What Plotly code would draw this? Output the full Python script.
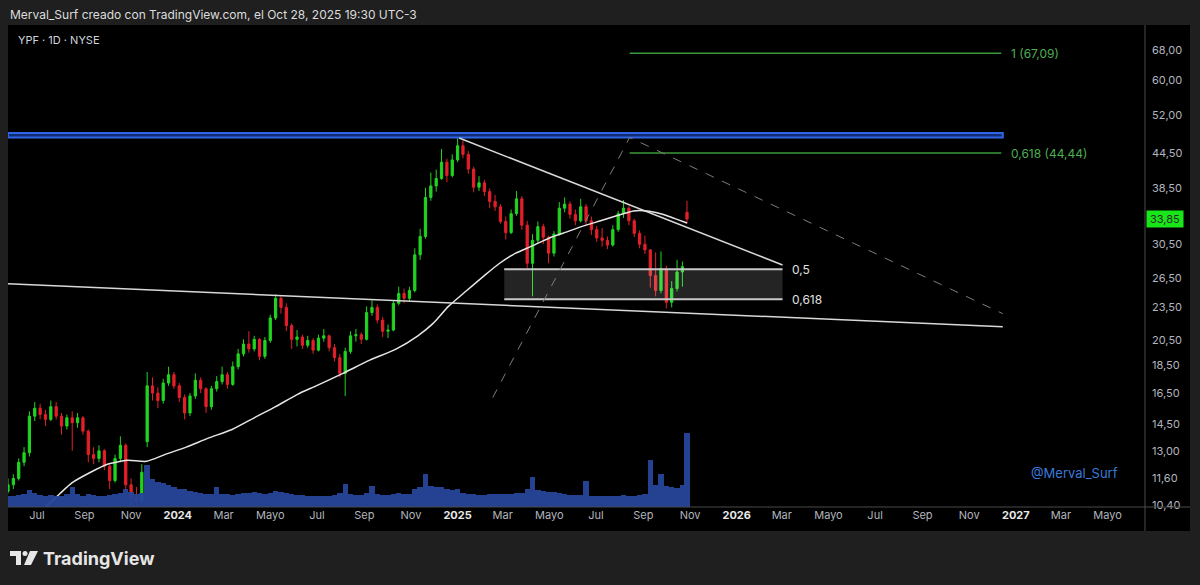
import math
import pandas as pd
import plotly.graph_objects as go

# ---------------- data ----------------
# weekly bars (centre of week), last bar = Oct 27-28 2025
dates = list(pd.date_range("2023-05-24", periods=127, freq="7D").strftime("%Y-%m-%d")) + ["2025-10-28"]

opens = [
    11.0, 11.3, 11.6, 12.4, 12.9, 15.0, 15.5, 15.1, 14.8, 15.6, 15.0, 14.4, 14.9, 14.6, 14.9, 14.1,
    12.8, 12.6, 13.0, 12.2, 11.5, 12.6, 13.3, 11.3, 10.7, 10.6, 13.5, 17.0, 16.5, 16.0, 17.2, 17.8,
    17.0, 16.2, 15.2, 16.3, 17.4, 16.8, 15.6, 16.8, 17.3, 17.8, 17.1, 18.4, 19.4, 20.2, 19.8, 20.6,
    19.2, 20.5, 22.5, 24.4, 23.5, 21.8, 20.6, 20.8, 20.1, 20.5, 19.7, 20.7, 20.9, 19.9, 19.1, 17.9,
    19.6, 20.9, 21.0, 20.6, 23.0, 23.5, 22.3, 21.3, 21.4, 23.9, 24.9, 24.4, 25.2, 29.2, 31.5, 37.0,
    38.8, 40.0, 42.8, 40.5,
    43.2, 45.8, 44.2, 41.6, 38.6, 39.3, 37.9, 36.4, 35.6, 33.5, 32.0, 34.6, 36.8, 33.0, 28.2, 31.0,
    32.8, 31.4, 29.4, 31.8, 35.4, 36.0, 34.5, 33.6, 35.6, 33.6, 32.4, 31.3, 31.0, 30.4, 32.4, 34.6,
    35.4, 33.6, 31.9, 30.5, 29.8, 26.8, 25.2, 27.6, 24.0, 25.4, 27.2, 34.8,
]
highs = [
    11.6, 11.8, 12.6, 13.2, 15.3, 15.9, 15.8, 15.4, 16.0, 15.9, 15.2, 15.1, 15.3, 15.2, 15.0, 14.2,
    13.2, 13.3, 13.1, 12.3, 12.8, 13.8, 13.4, 11.6, 11.2, 12.3, 18.0, 17.6, 16.9, 17.5, 18.4, 18.0,
    17.2, 16.4, 16.5, 17.9, 17.6, 16.9, 17.0, 17.7, 18.4, 18.0, 18.8, 19.8, 20.6, 21.3, 20.9, 20.7,
    20.8, 22.8, 24.8, 24.6, 23.9, 22.0, 21.4, 21.0, 20.9, 20.7, 21.0, 21.5, 21.0, 20.2, 19.4, 19.9,
    21.3, 21.5, 21.2, 23.6, 24.2, 23.8, 22.6, 21.9, 24.2, 25.6, 25.4, 25.6, 30.0, 32.5, 38.5, 41.0,
    41.5, 45.2, 43.4, 44.2,
    47.4, 46.8, 44.8, 42.0, 40.4, 39.8, 38.4, 37.4, 36.0, 34.2, 35.2, 38.0, 37.2, 33.6, 31.8, 33.5,
    33.2, 31.6, 32.2, 36.3, 37.0, 36.4, 35.2, 36.8, 36.0, 34.2, 32.9, 32.6, 31.5, 33.0, 35.0, 36.6,
    35.7, 33.9, 32.3, 31.6, 29.9, 29.5, 29.6, 27.9, 26.2, 28.6, 28.4, 36.5,
]
lows = [
    10.9, 11.1, 11.5, 12.2, 12.7, 14.7, 14.8, 14.4, 14.7, 14.8, 13.9, 14.2, 13.0, 14.3, 13.9, 12.4,
    12.3, 12.4, 12.0, 11.1, 11.4, 12.4, 11.0, 10.3, 10.2, 10.5, 13.2, 16.0, 15.5, 15.8, 17.0, 16.8,
    15.9, 14.8, 15.0, 16.1, 16.5, 15.2, 15.4, 16.6, 17.1, 16.8, 17.0, 18.2, 19.2, 19.5, 19.6, 18.9,
    19.0, 20.3, 22.3, 22.9, 21.3, 19.8, 20.0, 19.8, 19.9, 19.4, 19.6, 20.4, 19.6, 18.8, 17.6, 16.3,
    19.4, 20.4, 20.2, 20.5, 22.7, 22.0, 20.8, 20.7, 21.3, 23.7, 23.9, 24.1, 25.0, 28.6, 31.2, 36.5,
    37.9, 39.8, 39.4, 40.2,
    42.8, 43.5, 40.8, 37.8, 38.0, 37.2, 35.4, 35.0, 33.2, 31.1, 31.8, 34.3, 32.4, 27.6, 24.6, 30.6,
    30.5, 28.2, 29.0, 31.6, 34.8, 33.9, 33.0, 33.4, 33.0, 31.7, 30.8, 30.2, 29.9, 30.2, 32.1, 34.0,
    33.0, 31.4, 30.0, 29.3, 25.5, 24.6, 24.9, 23.4, 23.5, 25.1, 25.6, 33.2,
]
closes = [
    11.3, 11.6, 12.4, 12.9, 15.0, 15.5, 15.1, 14.8, 15.6, 15.0, 14.4, 14.9, 14.6, 14.9, 14.1, 12.8,
    12.6, 13.0, 12.2, 11.5, 12.6, 13.3, 11.3, 10.7, 10.6, 11.9, 17.0, 16.5, 16.0, 17.2, 17.8, 17.0,
    16.2, 15.2, 16.3, 17.4, 16.8, 15.6, 16.8, 17.3, 17.8, 17.1, 18.4, 19.4, 20.2, 19.8, 20.6, 19.2,
    20.5, 22.5, 24.4, 23.5, 21.8, 20.6, 20.8, 20.1, 20.5, 19.7, 20.7, 20.9, 19.9, 19.1, 17.9, 19.6,
    20.9, 21.0, 20.6, 23.0, 23.5, 22.3, 21.3, 21.4, 23.9, 24.9, 24.4, 25.2, 29.2, 31.5, 37.0, 38.8,
    40.0, 42.8, 40.5, 43.2,
    45.8, 44.2, 41.6, 38.6, 39.3, 37.9, 36.4, 35.6, 33.5, 32.0, 34.6, 36.8, 33.0, 28.2, 31.0, 32.8,
    31.4, 29.4, 31.8, 35.4, 36.0, 34.5, 33.6, 35.6, 33.6, 32.4, 31.3, 31.0, 30.4, 32.4, 34.6, 35.4,
    33.6, 31.9, 30.5, 29.8, 26.8, 25.2, 27.6, 24.0, 25.4, 27.2, 27.8, 33.85,
]
volumes = [
    2.6, 2.5, 2.8, 3.0, 3.8, 3.2, 2.8, 2.6, 2.7, 2.5, 2.6, 2.9, 4.5, 3.0, 2.6, 3.0,
    2.7, 2.6, 2.5, 2.8, 2.9, 3.2, 4.2, 3.4, 3.0, 3.3, 9.6, 6.4, 5.8, 5.4, 5.0, 4.5,
    4.2, 4.0, 3.6, 3.4, 3.2, 3.0, 3.0, 4.6, 3.0, 2.9, 2.8, 3.0, 3.2, 3.3, 3.4, 3.2,
    3.0, 3.2, 3.6, 3.4, 3.2, 3.0, 2.8, 2.7, 2.6, 2.6, 2.6, 2.5, 2.6, 2.7, 3.2, 5.2,
    3.0, 2.8, 2.7, 3.2, 4.8, 3.0, 2.8, 2.7, 3.0, 3.1, 2.9, 3.0, 4.2, 4.6, 7.6, 4.8,
    4.6, 4.5, 4.2, 3.8,
    4.0, 3.2, 3.0, 2.9, 2.8, 2.8, 2.9, 3.0, 2.9, 3.0, 2.9, 3.1, 3.2, 4.0, 6.8, 3.8,
    3.6, 3.5, 3.4, 3.2, 3.0, 2.8, 2.7, 2.7, 6.0, 2.6, 2.5, 2.5, 2.6, 2.6, 2.6, 2.7,
    2.6, 2.6, 2.7, 3.0, 10.7, 5.0, 7.6, 4.8, 4.6, 4.4, 5.0, 16.8,
]

# 200-day moving average
ma_dates = ["2023-06-25", "2023-07-12", "2023-07-31", "2023-08-16", "2023-09-09", "2023-10-01",
            "2023-10-27", "2023-11-21", "2023-12-15", "2024-01-12", "2024-02-10", "2024-03-12",
            "2024-04-10", "2024-05-08", "2024-06-05", "2024-06-30", "2024-08-04", "2024-09-08",
            "2024-10-13", "2024-11-10", "2024-11-30", "2024-12-20", "2025-01-13", "2025-02-05",
            "2025-02-25", "2025-03-18", "2025-04-09", "2025-05-01", "2025-05-24", "2025-06-15",
            "2025-07-07", "2025-07-28", "2025-08-19", "2025-09-06", "2025-09-20", "2025-10-02",
            "2025-10-15", "2025-10-28"]
ma_values = [9.8, 10.3, 10.9, 11.4, 11.9, 12.3, 12.5, 12.45, 12.8, 13.2, 13.7, 14.2,
             14.9, 15.6, 16.4, 17.0, 17.9, 18.9, 19.8, 20.9, 22.0, 23.6, 25.2, 26.8,
             28.2, 29.4, 30.3, 31.3, 32.1, 32.9, 33.6, 34.3, 35.0, 35.0, 34.7, 34.3,
             33.8, 33.3]

# drawings
upper_trend_x = ["2025-01-03", "2026-03-02"]
upper_trend_y = [47.3, 28.0]
lower_trend_x = ["2023-05-24", "2026-12-15"]
lower_trend_y = [25.9, 21.7]
blue_zone_x = ["2023-05-24", "2026-12-15"]
blue_zone_y = [47.4, 48.3]
fib_box_x = ["2025-03-03", "2026-03-02"]
fib_box_levels = [27.5, 24.3]
fib_box_labels = ["0,5", "0,618"]
target_x = ["2025-08-14", "2026-12-13"]
target_levels = [67.09, 44.44]
target_labels = ["1 (67,09)", "0,618 (44,44)"]
dashed_x = ["2025-02-16", "2025-08-14", "2026-12-15"]
dashed_y = [16.2, 47.4, 22.9]
last_price = 33.85

y_ticks = [68.0, 60.0, 52.0, 44.5, 38.5, 30.5, 26.5, 23.5, 20.5, 18.5, 16.5, 14.5, 13.0, 11.6, 10.4]
month_names = {1: None, 3: "Mar", 5: "Mayo", 7: "Jul", 9: "Sep", 11: "Nov"}

# ---------------- figure ----------------
L, R, T, B = 8, 55, 25, 78
W, H = 1200, 585
PW, PH = W - L - R, H - T - B


def px_x(p):
    return (p - L) / PW


def px_y(p):
    return (H - B - p) / PH


fig = go.Figure()

# volume
fig.add_trace(go.Bar(x=dates, y=volumes, yaxis="y2", marker=dict(color="#27469a", line=dict(width=0)),
                     width=7 * 86400000, opacity=0.95, hoverinfo="skip", showlegend=False))

# blue resistance zone
fig.add_trace(go.Scatter(
    x=[blue_zone_x[0], blue_zone_x[1], blue_zone_x[1], blue_zone_x[0], blue_zone_x[0]],
    y=[blue_zone_y[0], blue_zone_y[0], blue_zone_y[1], blue_zone_y[1], blue_zone_y[0]],
    fill="toself", fillcolor="rgba(41,98,255,0.45)", mode="lines",
    line=dict(color="#2f66e8", width=2), hoverinfo="skip", showlegend=False))

# fib grey box
fig.add_trace(go.Scatter(
    x=[fib_box_x[0], fib_box_x[1], fib_box_x[1], fib_box_x[0], fib_box_x[0]],
    y=[fib_box_levels[0], fib_box_levels[0], fib_box_levels[1], fib_box_levels[1], fib_box_levels[0]],
    fill="toself", fillcolor="rgba(255,255,255,0.14)", mode="lines",
    line=dict(width=0), hoverinfo="skip", showlegend=False))
for lvl in fib_box_levels:
    fig.add_trace(go.Scatter(x=fib_box_x, y=[lvl, lvl], mode="lines",
                             line=dict(color="#c8c8c8", width=2), hoverinfo="skip", showlegend=False))

# green targets
for lvl in target_levels:
    fig.add_trace(go.Scatter(x=target_x, y=[lvl, lvl], mode="lines",
                             line=dict(color="#3a9a3a", width=1.5), hoverinfo="skip", showlegend=False))

# dashed projection
fig.add_trace(go.Scatter(x=dashed_x, y=dashed_y, mode="lines",
                         line=dict(color="#7c7c7c", width=1, dash="dash"), hoverinfo="skip", showlegend=False))

# trend lines
fig.add_trace(go.Scatter(x=upper_trend_x, y=upper_trend_y, mode="lines",
                         line=dict(color="#d8d8d8", width=1.5), hoverinfo="skip", showlegend=False))
fig.add_trace(go.Scatter(x=lower_trend_x, y=lower_trend_y, mode="lines",
                         line=dict(color="#d8d8d8", width=1.5), hoverinfo="skip", showlegend=False))

# candles
fig.add_trace(go.Candlestick(
    x=dates, open=opens, high=highs, low=lows, close=closes,
    increasing=dict(line=dict(color="#22d422", width=1), fillcolor="#22d422"),
    decreasing=dict(line=dict(color="#e3202a", width=1), fillcolor="#e3202a"),
    whiskerwidth=0, hoverinfo="skip", showlegend=False))

# moving average
fig.add_trace(go.Scatter(x=ma_dates, y=ma_values, mode="lines",
                         line=dict(color="#e6e6e6", width=1.5, shape="spline", smoothing=0.6),
                         hoverinfo="skip", showlegend=False))

# x ticks
tickvals, ticktext = [], []
for d in pd.date_range("2023-07-01", "2027-05-01", freq="2MS"):
    tickvals.append(d.strftime("%Y-%m-%d"))
    if d.month == 1:
        ticktext.append(f"<b><span style='color:#e8e8e8'>{d.year}</span></b>")
    else:
        ticktext.append(month_names[d.month])

shapes = [
    # black panel
    dict(type="rect", xref="paper", yref="paper", x0=px_x(8), x1=px_x(1190), y0=px_y(531), y1=px_y(25),
         fillcolor="#000000", line=dict(width=0), layer="below"),
    # separators
    dict(type="line", xref="paper", yref="paper", x0=px_x(1145), x1=px_x(1145), y0=px_y(531), y1=px_y(25),
         line=dict(color="#4a4a4a", width=1)),
    dict(type="line", xref="paper", yref="paper", x0=px_x(8), x1=px_x(1190), y0=px_y(507), y1=px_y(507),
         line=dict(color="#4a4a4a", width=1)),
    # TradingView logo
    dict(type="path", xref="paper", yref="paper",
         path=f"M {px_x(10)},{px_y(551)} L {px_x(21)},{px_y(551)} L {px_x(21)},{px_y(565)} L {px_x(16)},{px_y(565)} "
              f"L {px_x(16)},{px_y(556)} L {px_x(10)},{px_y(556)} Z",
         fillcolor="#e6e6e6", line=dict(width=0)),
    dict(type="circle", xref="paper", yref="paper", x0=px_x(22.5), x1=px_x(27.5), y0=px_y(556), y1=px_y(551),
         fillcolor="#e6e6e6", line=dict(width=0)),
    dict(type="path", xref="paper", yref="paper",
         path=f"M {px_x(30)},{px_y(551)} L {px_x(38)},{px_y(551)} L {px_x(31)},{px_y(565)} L {px_x(24)},{px_y(565)} Z",
         fillcolor="#e6e6e6", line=dict(width=0)),
]

annotations = [
    dict(text="Merval_Surf creado con TradingView.com, el Oct 28, 2025 19:30 UTC-3", xref="paper", yref="paper",
         x=px_x(8), y=px_y(14), xanchor="left", yanchor="middle", showarrow=False,
         font=dict(size=12, color="#dcdcdc")),
    dict(text="YPF · 1D · NYSE", xref="paper", yref="paper", x=px_x(16), y=px_y(40), xanchor="left",
         yanchor="middle", showarrow=False, font=dict(size=11, color="#d1d4dc")),
    dict(text="@Merval_Surf", xref="paper", yref="paper", x=px_x(1029), y=px_y(473), xanchor="left",
         yanchor="middle", showarrow=False, font=dict(size=13, color="#3b7ad9")),
    dict(text="<b>TradingView</b>", xref="paper", yref="paper", x=px_x(41), y=px_y(558), xanchor="left",
         yanchor="middle", showarrow=False, font=dict(size=18, color="#e6e6e6")),
    dict(text=f"{last_price:.2f}".replace(".", ","), xref="paper", yref="y", x=px_x(1146),
         y=math.log10(last_price), xanchor="left", yanchor="middle", showarrow=False,
         bgcolor="#19e619", borderpad=1, font=dict(size=11, color="#2a2a2a"), width=34),
]
for lvl, lab in zip(fib_box_levels, fib_box_labels):
    annotations.append(dict(text=lab, x="2026-03-12", y=math.log10(lvl), xanchor="left", yanchor="middle",
                            showarrow=False, font=dict(size=12, color="#e0e0e0")))
for lvl, lab in zip(target_levels, target_labels):
    annotations.append(dict(text=lab, x="2026-12-23", y=math.log10(lvl), xanchor="left", yanchor="middle",
                            showarrow=False, font=dict(size=12, color="#4caf50")))

fig.update_layout(
    width=W, height=H,
    margin=dict(l=L, r=R, t=T, b=B),
    paper_bgcolor="#1f1f1f", plot_bgcolor="#000000",
    font=dict(family="Inter, Roboto, sans-serif", color="#b2b5be"),
    showlegend=False, bargap=0, hovermode=False,
    xaxis=dict(type="date", range=["2023-05-24", "2027-06-19"], rangeslider=dict(visible=False),
               showgrid=False, zeroline=False, tickvals=tickvals, ticktext=ticktext, ticks="",
               tickfont=dict(size=11, color="#b2b5be"), showline=False, fixedrange=True),
    yaxis=dict(type="log", range=[math.log10(10.31), math.log10(75.4)], side="right", showgrid=False,
               zeroline=False, tickvals=y_ticks, ticktext=[f"{v:.2f}".replace(".", ",") for v in y_ticks],
               tickfont=dict(size=11, color="#b2b5be"), ticks="", showline=False, ticklabelstandoff=6,
               fixedrange=True),
    yaxis2=dict(overlaying="y", range=[0, 110], visible=False, fixedrange=True),
    shapes=shapes, annotations=annotations,
)

fig.write_html("out.html", config={"displayModeBar": False},
               post_script="document.body.style.margin='0';document.body.style.background='#1f1f1f';")
